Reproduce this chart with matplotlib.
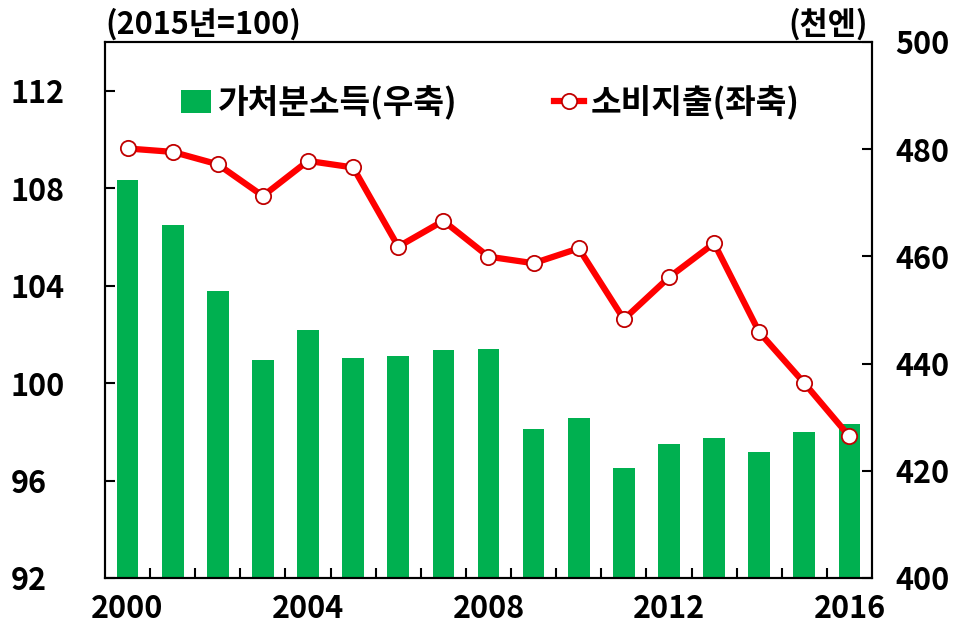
import matplotlib
matplotlib.use("Agg")
import matplotlib.pyplot as plt
from matplotlib.lines import Line2D
from matplotlib.patches import Patch

# ── data ──────────────────────────────────────────────────────────────────────
years = list(range(2000, 2017))
income = [474.3, 465.9, 453.6, 440.6, 446.2, 441.1, 441.4, 442.5, 442.7,
          427.8, 429.8, 420.5, 425.0, 426.1, 423.5, 427.2, 428.7]   # 천엔, right axis
consumption = [109.63, 109.49, 108.98, 107.68, 109.12, 108.85, 105.60, 106.66, 105.19,
               104.92, 105.53, 102.62, 104.34, 105.74, 102.09, 100.0, 97.81]  # 2015=100, left axis
xtick_years = [2000, 2004, 2008, 2012, 2016]
left_ticks = [92, 96, 100, 104, 108, 112]
right_ticks = [400, 420, 440, 460, 480, 500]

GREEN = "#00B050"
RED = "#FF0000"
FONT = ["Noto Sans CJK KR", "DejaVu Sans"]

plt.rcParams["font.family"] = FONT
plt.rcParams["font.weight"] = "bold"

fig = plt.figure(figsize=(9.77, 6.38), dpi=100)
ax = fig.add_axes([105 / 977, 1 - 578 / 638, 767 / 977, 536 / 638])
ax2 = ax.twinx()

x = list(range(len(years)))
ax2.bar(x, income, width=0.48, color=GREEN, zorder=2)
ax.plot(x, consumption, color=RED, linewidth=4.5, marker="o", markersize=11,
        markerfacecolor="white", markeredgecolor="#C00000", markeredgewidth=1.3,
        zorder=5)

# line above the bars
ax.set_zorder(ax2.get_zorder() + 1)
ax.patch.set_visible(False)

ax.set_xlim(-0.5, len(years) - 0.5)
ax.set_ylim(92, 114)
ax2.set_ylim(400, 500)

ax.set_yticks(left_ticks)
ax.set_yticklabels([str(v) for v in left_ticks], fontsize=22, fontweight="bold", ha="left")
ax2.set_yticks(right_ticks)
ax2.set_yticklabels([str(v) for v in right_ticks], fontsize=22, fontweight="bold")

# year labels under bars, tick marks between bars
ax.set_xticks([i + 0.5 for i in range(len(years) - 1)])
ax.set_xticklabels([])
ax.set_xticks([years.index(y) for y in xtick_years], minor=True)
ax.set_xticklabels([str(y) for y in xtick_years], minor=True, fontsize=22, fontweight="bold")
ax.tick_params(axis="x", which="minor", length=0, pad=11)
ax.tick_params(axis="x", which="major", direction="in", length=7, width=1.5)
ax.tick_params(axis="y", direction="in", length=7, width=1.5, pad=68)
ax2.tick_params(axis="y", direction="in", length=7, width=1.5, pad=17)

for a in (ax, ax2):
    for s in a.spines.values():
        s.set_linewidth(1.5)

fig.text(105 / 977, 1 - 24 / 638, "(2015년=100)", fontsize=22, fontweight="bold",
         ha="left", va="center")
fig.text(868 / 977, 1 - 24 / 638, "(천엔)", fontsize=22, fontweight="bold",
         ha="right", va="center")

handles = [
    Patch(facecolor=GREEN, edgecolor="none"),
    Line2D([], [], color=RED, linewidth=4.5, marker="o", markersize=11,
           markerfacecolor="white", markeredgecolor="#C00000", markeredgewidth=1.3),
]
ax.legend(handles, ["가처분소득(우축)", "소비지출(좌축)"], ncol=2, frameon=False,
          loc="upper left", bbox_to_anchor=(0.06, 0.975),
          prop={"weight": "bold", "size": 24, "family": FONT},
          handlelength=0.9, handletextpad=0.2, columnspacing=2.9)

fig.savefig("out.png", dpi=100)
